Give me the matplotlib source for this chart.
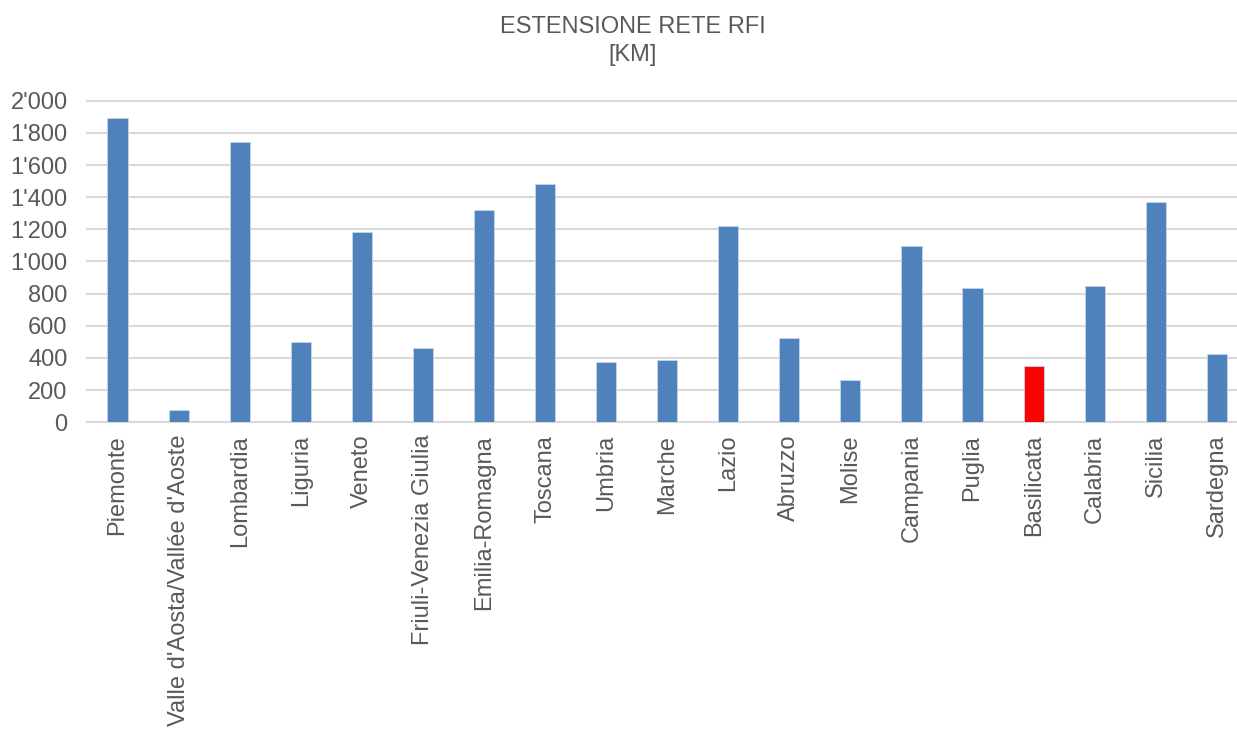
import matplotlib
matplotlib.use("Agg")
import matplotlib.pyplot as plt
from matplotlib.ticker import FuncFormatter, MultipleLocator

regions = ["Piemonte", "Valle d'Aosta/Vallée d'Aoste", "Lombardia", "Liguria", "Veneto",
           "Friuli-Venezia Giulia", "Emilia-Romagna", "Toscana", "Umbria", "Marche",
           "Lazio", "Abruzzo", "Molise", "Campania", "Puglia", "Basilicata",
           "Calabria", "Sicilia", "Sardegna"]
km = [1890, 77, 1743, 499, 1181, 462, 1320, 1482, 375, 389,
      1221, 524, 263, 1096, 835, 352, 848, 1370, 425]
highlight = "Basilicata"

blue = "#4f81bd"
red = "#ff0000"
text_grey = "#595959"
grid_grey = "#d9d9d9"

plt.rcParams["font.family"] = ["Liberation Sans", "DejaVu Sans"]

fig = plt.figure(figsize=(12.37, 7.33), dpi=100)
ax = fig.add_axes([87 / 1237, 1 - 422.3 / 733, 1 - 87 / 1237, (422.3 - 100.7) / 733])

colors = [red if r == highlight else blue for r in regions]
x = list(range(len(regions)))
ax.bar(x, km, width=0.33, color=colors, edgecolor="#c6d6ea", linewidth=0.6, zorder=3)

ax.set_xlim(-0.5, 18.33)
ax.set_ylim(0, 2000)
ax.yaxis.set_major_locator(MultipleLocator(200))
ax.yaxis.set_major_formatter(FuncFormatter(lambda v, p: f"{int(v):,}".replace(",", "'")))
ax.grid(axis="y", color=grid_grey, linewidth=1.5, zorder=0, clip_on=False)
for s in ax.spines.values():
    s.set_visible(False)

ax.set_xticks(x)
ax.set_xticklabels(regions, rotation=90, fontsize=17, color=text_grey)
ax.tick_params(axis="x", length=0, pad=9)
ax.tick_params(axis="y", length=0, pad=14, labelsize=17, labelcolor=text_grey)

fig.text(633 / 1237, 1 - 27 / 733, "ESTENSIONE RETE RFI", ha="center", va="center",
         fontsize=17, color=text_grey)
fig.text(633 / 1237, 1 - 55 / 733, "[KM]", ha="center", va="center",
         fontsize=17, color=text_grey)

fig.savefig("out.png", dpi=100)
